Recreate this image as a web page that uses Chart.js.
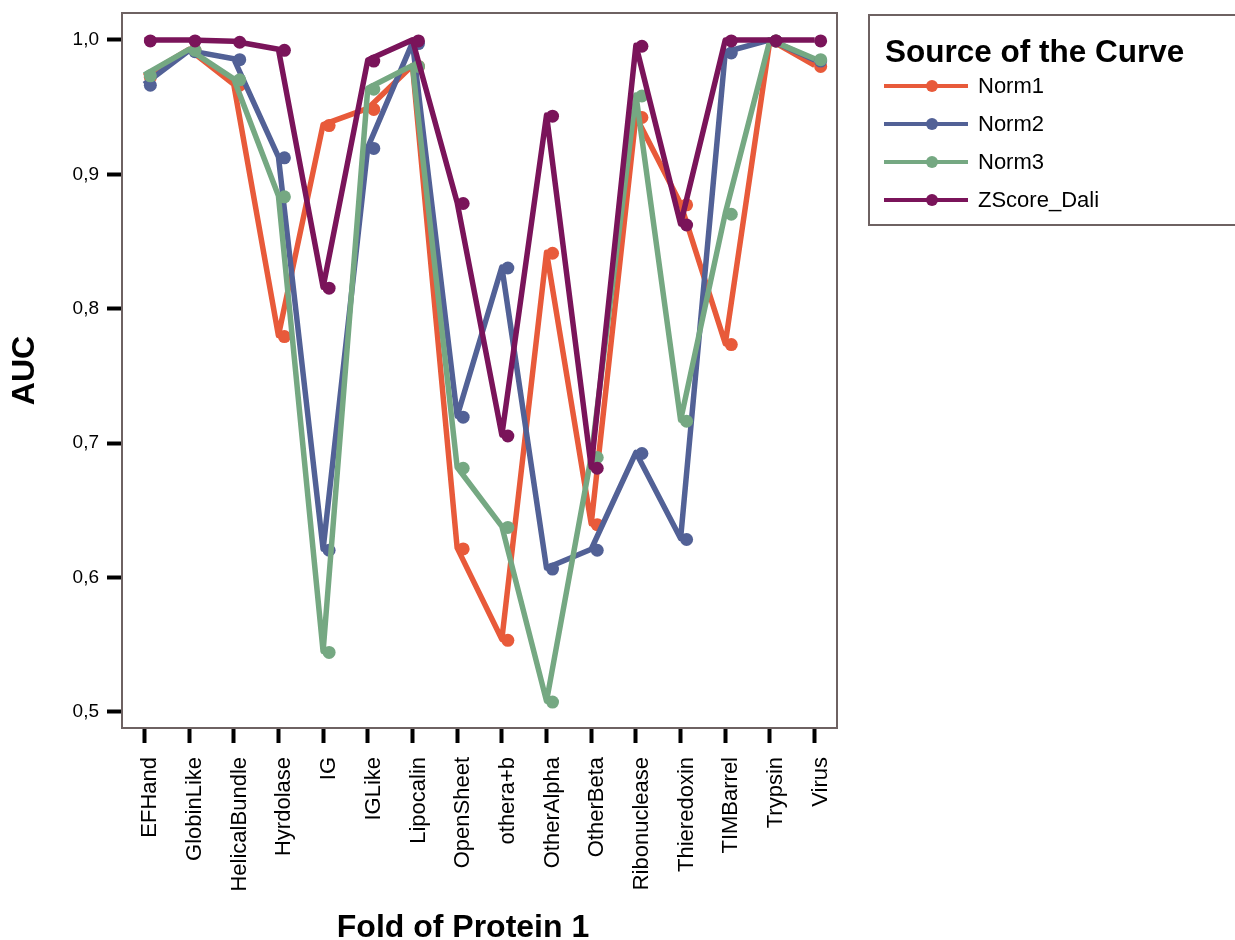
<!DOCTYPE html>
<html>
<head>
<meta charset="utf-8">
<script src="https://cdn.jsdelivr.net/npm/chart.js@4.4.1/dist/chart.umd.min.js"></script>
<style>
  body { margin: 0; background: #fff; font-family: "Liberation Sans", Arial, sans-serif; }
  #wrap { position: relative; width: 1235px; height: 940px; overflow: hidden; }
  #legend {
    position: absolute; left: 868px; top: 14px; width: 400px; height: 212px;
    border: 2px solid #6e6262; box-sizing: border-box;
  }
  #legend .title { position: absolute; left: 15px; top: 17px; font-weight: bold; font-size: 31.5px; line-height: 36px; }
  #legend .item { position: absolute; left: 0; height: 30px; }
  #legend .line { position: absolute; left: 14px; top: 13px; width: 84px; height: 4px; }
  #legend .dot { position: absolute; left: 56px; top: 9px; width: 12px; height: 12px; border-radius: 50%; }
  #legend .label { position: absolute; left: 108px; top: 0; font-size: 22px; line-height: 30px; white-space: nowrap; }
</style>
</head>
<body>
<div id="wrap">
  <canvas id="chart"></canvas>
  <div id="legend"><div class="title">Source of the Curve</div></div>
</div>
<script>
// ── Data ──────────────────────────────────────────────────────────────────────
const categories = ["EFHand", "GlobinLike", "HelicalBundle", "Hyrdolase", "IG", "IGLike",
    "Lipocalin", "OpenSheet", "othera+b", "OtherAlpha", "OtherBeta", "Ribonuclease",
    "Thieredoxin", "TIMBarrel", "Trypsin", "Virus"];

const norm1  = [0.973, 0.993, 0.967, 0.780, 0.937, 0.949, 0.981, 0.622, 0.554, 0.842, 0.640, 0.943, 0.878, 0.774, 1.000, 0.981];
const norm2  = [0.967, 0.992, 0.986, 0.913, 0.621, 0.920, 0.998, 0.720, 0.831, 0.607, 0.621, 0.693, 0.629, 0.991, 1.000, 0.985];
const norm3  = [0.974, 0.993, 0.971, 0.884, 0.545, 0.964, 0.981, 0.682, 0.638, 0.508, 0.690, 0.959, 0.717, 0.871, 1.000, 0.986];
const zscore = [1.000, 1.000, 0.999, 0.993, 0.816, 0.985, 1.000, 0.879, 0.706, 0.944, 0.682, 0.996, 0.863, 1.000, 1.000, 1.000];

const yTicks = [0.5, 0.6, 0.7, 0.8, 0.9, 1.0];

const seriesNames  = ["Norm1", "Norm2", "Norm3", "ZScore_Dali"];
const seriesValues = [norm1, norm2, norm3, zscore];
const seriesColors = ["#e85a3a", "#526196", "#75a882", "#7a145a"];

const FONT = '"Liberation Sans", Arial, sans-serif';

// ── Legend (HTML) ─────────────────────────────────────────────────────────────
const legendEl = document.getElementById("legend");
seriesNames.forEach((name, i) => {
    const item = document.createElement("div");
    item.className = "item";
    item.style.top = (55 + i * 38) + "px";
    item.innerHTML = `<div class="line" style="background:${seriesColors[i]}"></div>
        <div class="dot" style="background:${seriesColors[i]}"></div>
        <div class="label">${name}</div>`;
    legendEl.appendChild(item);
});

// ── Plugins ───────────────────────────────────────────────────────────────────
// markers sit a little to the right of the line vertices, like the original
const offsetMarkers = {
    id: "offsetMarkers",
    afterDatasetDraw(chart, args) {
        const ctx = chart.ctx;
        const color = chart.data.datasets[args.index].borderColor;
        ctx.save();
        ctx.fillStyle = color;
        args.meta.data.forEach(pt => {
            ctx.beginPath();
            ctx.arc(pt.x + 6, pt.y + 1, 6.5, 0, Math.PI * 2);
            ctx.fill();
        });
        ctx.restore();
    }
};

const frame = {
    id: "frame",
    afterDraw(chart) {
        const { ctx, chartArea: a } = chart;
        ctx.save();
        ctx.strokeStyle = "#6e6262";
        ctx.lineWidth = 2;
        ctx.strokeRect(a.left, a.top, a.right - a.left, a.bottom - a.top);
        // x axis title, centred like the original
        ctx.fillStyle = "#000";
        ctx.font = `bold 32px ${FONT}`;
        ctx.textAlign = "center";
        ctx.textBaseline = "middle";
        ctx.fillText("Fold of Protein 1", 463, 928);
        ctx.restore();
    }
};

// ── Chart ─────────────────────────────────────────────────────────────────────
const canvas = document.getElementById("chart");
canvas.width = 1235;
canvas.height = 940;

new Chart(canvas, {
    type: "line",
    data: {
        labels: categories,
        datasets: seriesNames.map((name, i) => ({
            label: name,
            data: seriesValues[i],
            borderColor: seriesColors[i],
            backgroundColor: seriesColors[i],
            borderWidth: 5.5,
            borderJoinStyle: "round",
            pointRadius: 0,
            tension: 0,
            order: seriesNames.length - i
        }))
    },
    options: {
        responsive: false,
        animation: false,
        layout: { padding: { top: 13, right: 398, bottom: 0, left: 0 } },
        plugins: {
            legend: { display: false },
            tooltip: { enabled: false }
        },
        scales: {
            x: {
                offset: true,
                grid: { drawOnChartArea: false, tickLength: 15, tickColor: "#000", tickWidth: 4 },
                border: { display: false },
                ticks: {
                    color: "#000",
                    font: { family: FONT, size: 22 },
                    minRotation: 90,
                    maxRotation: 90,
                    padding: 14,
                    labelOffset: 6,
                    autoSkip: false
                },
                afterFit: s => { s.height = 212; s.paddingLeft = 0; s.paddingRight = 0; }
            },
            y: {
                min: 0.488,
                max: 1.02,
                grid: { drawOnChartArea: false, tickLength: 15, tickColor: "#000", tickWidth: 4 },
                border: { display: false },
                afterBuildTicks: s => { s.ticks = yTicks.map(v => ({ value: v })); },
                ticks: {
                    color: "#000",
                    font: { family: FONT, size: 19 },
                    padding: 8,
                    callback: v => v.toFixed(1).replace(".", ",")
                },
                title: {
                    display: true,
                    text: "AUC",
                    color: "#000",
                    font: { family: FONT, size: 32, weight: "bold" },
                    padding: { top: 6, bottom: 0 }
                },
                afterFit: s => { s.width = 122; s.paddingTop = 0; s.paddingBottom = 0; }
            }
        }
    },
    plugins: [offsetMarkers, frame]
});
</script>
</body>
</html>
